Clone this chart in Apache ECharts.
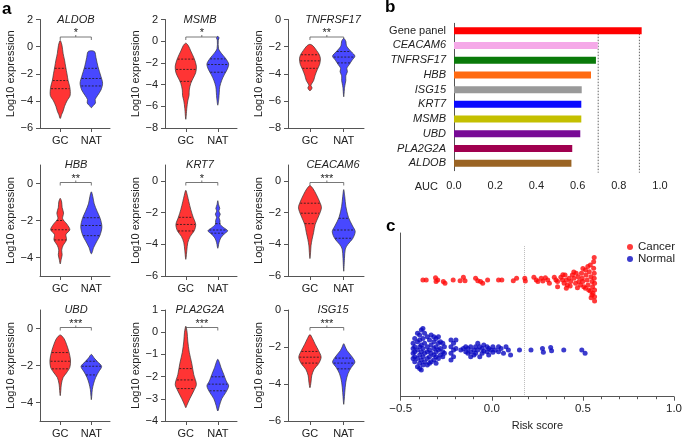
<!DOCTYPE html>
<html><head><meta charset="utf-8">
<script src="https://cdn.jsdelivr.net/npm/echarts@6/dist/echarts.min.js"></script>
<style>html,body{margin:0;padding:0;background:#fff}#main{width:685px;height:440px}</style>
</head><body><div id="main"></div>
<script>
// ---------- DATA ----------
const genes = ['ALDOB','MSMB','TNFRSF17','HBB','KRT7','CEACAM6','UBD','PLA2G2A','ISG15'];
const groups = ['GC','NAT'];
const stars = ['*','*','**','**','*','***','***','***','***'];
const yMin = [-6,-8,-8,-5,-6,-6,-5,-4,-6];
const yMax = [2,2,0,1,1,1,1,1,0];
const yTicks = [[-6,-4,-2,0,2],[-8,-6,-4,-2,0,2],[-8,-6,-4,-2,0],[-4,-2,0],[-6,-4,-2,0],[-6,-4,-2,0],[-4,-2,0],[-4,-3,-2,-1,0,1],[-6,-4,-2,0]];

// violin profiles: [log10 expression, relative density]
const aldobGC = [[0.45,0],[0.1,1.8],[-0.5,3],[-1.0,4.5],[-1.5,5.7],[-2.0,7],[-2.5,8.2],[-3.0,10],[-3.6,10.3],[-4.0,7],[-4.4,4.5],[-4.8,2.8],[-5.0,1.5],[-5.3,0]];
const aldobNAT = [[-0.3,0],[-0.38,3.5],[-0.8,4.8],[-1.5,7],[-2.2,10],[-2.7,11.7],[-3.2,10],[-3.6,6.5],[-3.9,4],[-4.15,4.3],[-4.35,2],[-4.5,0]];
const msmbGC = [[-0.18,0],[-0.4,2.5],[-0.9,5],[-1.6,8.5],[-2.3,10.7],[-2.9,10],[-3.4,7.5],[-3.9,5],[-4.5,3.5],[-5.0,3.3],[-5.5,2],[-6.2,1],[-7.2,0]];
const msmbNAT = [[0.45,0],[0.3,1.3],[0.1,0.5],[-0.7,0.8],[-1.1,3.5],[-1.6,8],[-2.1,11],[-2.6,9.5],[-3.1,6.5],[-3.6,4],[-4.2,2],[-4.7,1.5],[-5.3,1],[-5.9,0]];
const tnfGC = [[-1.83,0],[-1.95,3],[-2.3,6.5],[-2.6,9],[-2.9,10],[-3.3,9.3],[-3.7,7],[-4.1,5],[-4.5,3.5],[-4.85,1],[-5.05,2],[-5.25,0]];
const tnfNAT = [[-1.4,0],[-1.6,2],[-1.9,2.5],[-2.1,4],[-2.4,7.5],[-2.7,10.7],[-3.0,8],[-3.3,5.5],[-3.6,3],[-3.85,3.5],[-4.15,2],[-4.5,2],[-4.7,1.5],[-5.0,0.8],[-5.7,0]];
const hbbGC = [[-0.8,0],[-1.0,1.5],[-1.3,2],[-1.6,3.5],[-1.9,2.5],[-2.2,7],[-2.5,10],[-2.75,6],[-3.05,6.5],[-3.35,3],[-3.6,1.5],[-3.85,2],[-4.1,1],[-4.35,0]];
const hbbNAT = [[-0.45,0],[-0.7,1.5],[-1.1,3],[-1.5,6],[-1.9,9.3],[-2.35,11],[-2.8,9],[-3.1,6],[-3.45,2.5],[-3.8,0]];
const krt7GC = [[-0.6,0],[-0.9,1.5],[-1.3,3],[-1.8,5],[-2.3,7.5],[-2.75,10],[-3.15,8.5],[-3.5,4.5],[-3.9,2],[-4.4,1],[-4.95,0]];
const krt7NAT = [[-1.25,0],[-1.5,0.8],[-1.75,2],[-1.9,1],[-2.1,2.5],[-2.3,1.2],[-2.5,2.2],[-2.75,2.5],[-2.95,6],[-3.15,10],[-3.35,6.5],[-3.6,3],[-3.9,1.2],[-4.25,0]];
const ceaGC = [[-0.3,0],[-0.5,3],[-0.85,6],[-1.35,9.5],[-1.7,11],[-2.2,8.5],[-2.75,5],[-3.25,3.5],[-3.7,2],[-4.1,1],[-4.5,0.6],[-4.9,0]];
const ceaNAT = [[-0.55,0],[-1.0,1],[-1.6,2],[-2.3,4.5],[-2.85,8.5],[-3.2,11],[-3.65,8.5],[-4.0,4],[-4.3,1.5],[-4.9,0.7],[-5.7,0]];
const ubdGC = [[-0.35,0],[-0.55,4],[-0.85,6.5],[-1.25,9],[-1.7,10.7],[-2.1,10],[-2.4,6.5],[-2.65,3],[-3.0,1.2],[-3.35,0.6],[-3.63,0]];
const ubdNAT = [[-1.4,0],[-1.6,3],[-1.8,6.5],[-2.05,10.7],[-2.35,7.5],[-2.65,4.5],[-2.95,2.5],[-3.3,1],[-3.6,0.5],[-3.85,0]];
const plaGC = [[0.27,0],[0.0,1.3],[-0.4,2],[-0.9,3.5],[-1.4,6],[-1.9,8],[-2.35,10.7],[-2.65,8],[-3.0,4],[-3.3,1],[-3.4,0]];
const plaNAT = [[-1.22,0],[-1.35,1.5],[-1.6,3.3],[-1.9,6],[-2.2,8.5],[-2.42,11],[-2.72,8],[-3.0,4],[-3.3,1.7],[-3.55,0]];
const isgGC = [[-1.33,0],[-1.55,2.5],[-1.85,5],[-2.2,8.3],[-2.55,10.7],[-2.9,8.3],[-3.2,4],[-3.55,1.7],[-3.9,1],[-4.2,0]];
const isgNAT = [[-1.82,0],[-2.0,1.5],[-2.2,3.3],[-2.55,8.3],[-2.82,10.7],[-3.1,7.3],[-3.45,4],[-3.9,2],[-4.45,1],[-4.9,0.4],[-5.1,0]];

// quartiles [Q1, median, Q3] for GC and NAT
const aldobQ = [[-3.1,-2.5,-1.6],[-2.9,-2.35,-1.6]];
const msmbQ = [[-3.7,-2.6,-1.65],[-2.86,-2.15,-1.63]];
const tnfQ = [[-3.6,-3.05,-2.6],[-3.2,-2.77,-2.36]];
const hbbQ = [[-3.05,-2.5,-2.0],[-2.82,-2.27,-1.85]];
const krt7Q = [[-3.16,-2.75,-2.3],[-3.3,-3.1,-2.7]];
const ceaQ = [[-2.7,-2.04,-1.41],[-3.62,-3.1,-2.36]];
const ubdQ = [[-2.18,-1.77,-1.3],[-2.51,-2.04,-1.77]];
const plaQ = [[-2.54,-2.15,-1.64],[-2.64,-2.34,-2.01]];
const isgQ = [[-2.87,-2.55,-2.24],[-3.18,-2.87,-2.6]];

// panel b
const aucLabels = ['Gene panel','CEACAM6','TNFRSF17','HBB','ISG15','KRT7','MSMB','UBD','PLA2G2A','ALDOB'];
const aucValues = [0.911,0.698,0.689,0.665,0.620,0.618,0.618,0.613,0.574,0.570];
const aucColors = ['#ff0000','#f5a9e8','#0a7a0a','#ff6a10','#999999','#0a0aff','#c4c000','#780a96','#a0004f','#9a6424'];
const aucRefLines = [0.7, 0.9];

// panel c: [risk score, swarm position]
const cancer = [[-0.378,71.3],[-0.360,71.3],[-0.309,72.7],[-0.306,70.3],[-0.297,71.3],[-0.266,70.3],[-0.257,69.3],[-0.212,71.3],[-0.174,70.9],[-0.156,72.9],[-0.147,70.9],[-0.089,72.3],[-0.077,70.9],[-0.062,70.3],[-0.050,69.3],[-0.023,71.3],[0.037,71.3],[0.055,71.3],[0.118,70.9],[0.136,72.3],[0.181,72.3],[0.184,70.7],[0.231,72.9],[0.244,71.3],[0.253,70.3],[0.271,72.3],[0.280,70.7],[0.294,72.7],[0.307,71.3],[0.316,69.3],[0.343,72.9],[0.352,71.3],[0.361,70.3],[0.379,72.9],[0.388,71.3],[0.397,69.3],[0.402,74.4],[0.409,71.3],[0.415,68.2],[0.424,72.3],[0.433,70.3],[0.442,74.4],[0.451,72.3],[0.460,69.3],[0.463,75.4],[0.474,73.3],[0.478,70.3],[0.487,68.2],[0.492,75.4],[0.496,72.3],[0.499,70.3],[0.505,67.2],[0.514,77.4],[0.517,74.4],[0.523,71.3],[0.528,68.2],[0.532,65.2],[0.535,76.4],[0.541,80.5],[0.544,73.3],[0.550,70.3],[0.553,67.2],[0.555,63.2],[0.559,82.5],[0.559,78.4],[0.562,75.4],[0.562,72.3],[0.564,69.3],[0.564,65.2],[0.564,61.1],[0.564,58.5],[0.550,62.1],[0.541,64.6],[0.514,66.2],[0.409,66.2],[0.361,67.2],[0.562,85.0],[0.545,60.4],[0.47,66.6],[0.43,67.6],[0.45,76.2],[0.50,78.3],[0.527,79.6],[0.39,74.5]];
const normal = [[-0.432,32.6],[-0.432,29.5],[-0.432,26.5],[-0.432,23.4],[-0.423,35.6],[-0.423,30.5],[-0.423,27.5],[-0.423,24.4],[-0.423,21.4],[-0.408,38.7],[-0.408,33.6],[-0.408,28.5],[-0.408,23.4],[-0.408,18.3],[-0.396,37.7],[-0.396,34.6],[-0.396,30.5],[-0.396,25.4],[-0.396,20.4],[-0.396,17.3],[-0.387,40.7],[-0.387,31.6],[-0.387,27.5],[-0.387,22.4],[-0.387,16.3],[-0.378,41.7],[-0.378,35.6],[-0.378,29.5],[-0.378,24.4],[-0.378,19.3],[-0.369,38.7],[-0.369,32.6],[-0.369,26.5],[-0.369,21.4],[-0.354,36.6],[-0.354,30.5],[-0.354,27.5],[-0.354,23.4],[-0.354,19.3],[-0.342,34.6],[-0.342,28.5],[-0.342,24.4],[-0.342,20.4],[-0.333,37.7],[-0.333,31.6],[-0.333,26.5],[-0.333,21.4],[-0.318,36.6],[-0.318,33.6],[-0.318,29.5],[-0.318,25.4],[-0.318,22.4],[-0.306,35.6],[-0.306,30.5],[-0.306,27.5],[-0.306,24.4],[-0.306,20.4],[-0.293,36.6],[-0.293,32.6],[-0.293,28.5],[-0.293,23.4],[-0.282,33.6],[-0.282,29.5],[-0.282,25.4],[-0.269,32.6],[-0.269,27.5],[-0.269,24.4],[-0.260,30.5],[-0.260,26.5],[-0.224,34.6],[-0.224,30.5],[-0.224,26.5],[-0.224,22.4],[-0.210,32.6],[-0.210,28.5],[-0.210,24.4],[-0.197,34.6],[-0.197,29.5],[-0.170,28.5],[-0.156,29.5],[-0.143,30.5],[-0.143,27.5],[-0.131,29.5],[-0.131,26.5],[-0.116,30.5],[-0.116,27.5],[-0.116,24.4],[-0.098,28.5],[-0.098,25.4],[-0.089,30.5],[-0.089,26.5],[-0.077,32.6],[-0.077,28.5],[-0.066,30.5],[-0.066,24.4],[-0.053,29.5],[-0.053,26.5],[-0.044,31.6],[-0.044,27.9],[-0.026,30.5],[-0.026,27.5],[-0.017,29.5],[-0.017,25.4],[-0.005,28.5],[0.006,30.5],[0.006,27.1],[0.019,28.5],[0.037,30.5],[0.037,27.5],[0.051,29.5],[0.064,26.5],[0.078,30.5],[0.091,28.5],[0.103,25.4],[0.152,28.5],[0.215,28.5],[0.278,29.5],[0.283,27.1],[0.323,30.0],[0.328,28.0],[0.395,28.5],[0.494,28.5],[0.512,26.5]];
const riskCutoff = 0.18;

// ---------- CHART ----------
const FONT = '"Liberation Sans", Arial, Helvetica, sans-serif';
const AX = '#555';
const TXT = '#222';
const profiles = [[aldobGC,aldobNAT],[msmbGC,msmbNAT],[tnfGC,tnfNAT],[hbbGC,hbbNAT],[krt7GC,krt7NAT],[ceaGC,ceaNAT],[ubdGC,ubdNAT],[plaGC,plaNAT],[isgGC,isgNAT]];
const quarts = [aldobQ,msmbQ,tnfQ,hbbQ,krt7Q,ceaQ,ubdQ,plaQ,isgQ];
const fills = ['#ff3434','#4848ff'];
const colLeft = [40,165,288], colRight = [110,237,364];
const rowTop = [19.5,165,310], rowBottom = [128,276,421];
const titleX = [76,200,333];
const minus = v => String(v).replace('-', '\u2212');

function widthAt(prof, v) {
  for (let i = 0; i < prof.length - 1; i++) {
    const a = prof[i], b = prof[i+1];
    if (v <= a[0] && v >= b[0]) {
      const t = (a[0] - v) / (a[0] - b[0]);
      return a[1] + t * (b[1] - a[1]);
    }
  }
  return 0;
}

function makeViolin(gi) {
  return function (params, api) {
    const g = api.value(0);
    const prof = profiles[gi][g];
    const cx = api.coord([g, 0])[0];
    const sp = api.coord([1, 0])[0] - api.coord([0, 0])[0];
    const k = sp * 0.34 / 11;
    const right = prof.map(p => [cx + p[1] * k, api.coord([g, p[0]])[1]]);
    const left = prof.filter(p => p[1] > 0).slice().reverse().map(p => [cx - p[1] * k, api.coord([g, p[0]])[1]]);
    const children = [{
      type: 'polygon',
      shape: { points: right.concat(left), smooth: 0.3 },
      style: { fill: fills[g], stroke: '#333', lineWidth: 0.7 }
    }];
    quarts[gi][g].forEach(v => {
      const hw = widthAt(prof, v) * k * 0.95;
      const y = api.coord([g, v])[1];
      children.push({ type: 'line', shape: { x1: cx - hw, y1: y, x2: cx + hw, y2: y },
        style: { stroke: '#1a1a1a', lineWidth: 0.8, lineDash: [2, 1.5] } });
    });
    if (g === 0) {
      const x0 = cx, x1 = api.coord([1, 0])[0];
      const yb = params.coordSys.y + 17.5;
      const xm = (x0 + x1) / 2;
      children.push({ type: 'polyline', shape: { points: [[x0, yb + 3], [x0, yb], [x1, yb], [x1, yb + 3]] },
        style: { stroke: '#555', lineWidth: 0.8, fill: null } });
      children.push({ type: 'line', shape: { x1: xm, y1: yb, x2: xm, y2: yb - 2 },
        style: { stroke: '#555', lineWidth: 0.8 } });
      children.push({ type: 'text', style: { text: stars[gi], x: xm, y: yb - 4, align: 'center', verticalAlign: 'middle',
        fontSize: 11, fontFamily: FONT, fill: TXT } });
    }
    return { type: 'group', children };
  };
}

const grid = [], xAxis = [], yAxis = [], series = [], graphic = [];
genes.forEach((g, i) => {
  const r = Math.floor(i / 3), c = i % 3;
  grid.push({ left: colLeft[c], width: colRight[c] - colLeft[c], top: rowTop[r], height: rowBottom[r] - rowTop[r] });
  xAxis.push({ gridIndex: i, type: 'value', min: -0.65, max: 1.6,
    splitLine: { show: false },
    axisLine: { onZero: false, lineStyle: { color: AX, width: 1 } },
    axisTick: { show: true, customValues: [0, 1], length: 4, lineStyle: { color: AX } },
    axisLabel: { customValues: [0, 1], formatter: v => groups[Math.round(v)], color: TXT, fontSize: 11, fontFamily: FONT, margin: 7 } });
  yAxis.push({ gridIndex: i, type: 'value', min: yMin[i], max: yMax[i],
    name: 'Log10 expression', nameLocation: 'middle', nameGap: 24,
    nameTextStyle: { color: TXT, fontSize: 11, fontFamily: FONT },
    splitLine: { show: false },
    axisLine: { show: true, onZero: false, lineStyle: { color: AX, width: 1 } },
    axisTick: { show: true, customValues: yTicks[i], length: 4, lineStyle: { color: AX } },
    axisLabel: { customValues: yTicks[i], formatter: minus, color: TXT, fontSize: 11, fontFamily: FONT, margin: 7 } });
  series.push({ type: 'custom', xAxisIndex: i, yAxisIndex: i, data: [[0, 0], [1, 0]],
    renderItem: makeViolin(i), silent: true, clip: false });
  graphic.push({ type: 'text', x: titleX[c], y: rowTop[r], style: { text: g, align: 'center', verticalAlign: 'middle',
    fontStyle: 'italic', fontSize: 11, fontFamily: FONT, fill: TXT } });
});

// panel b
grid.push({ left: 454, right: 25, top: 23.3, bottom: 440 - 170.7 });
xAxis.push({ gridIndex: 9, type: 'value', min: 0, max: 1, interval: 0.2, offset: 2,
  name: 'AUC', nameLocation: 'start', nameGap: 16,
  nameTextStyle: { color: TXT, fontSize: 11, fontFamily: FONT, align: 'right', verticalAlign: 'top', padding: [9, 0, 0, 0] },
  splitLine: { show: false },
  axisLine: { onZero: false, lineStyle: { color: AX } },
  axisTick: { length: 4, lineStyle: { color: AX } },
  axisLabel: { formatter: v => v.toFixed(1), color: TXT, fontSize: 11, fontFamily: FONT, margin: 8 } });
yAxis.push({ gridIndex: 9, type: 'category', data: aucLabels, inverse: true,
  axisLine: { onZero: false, lineStyle: { color: AX } },
  axisTick: { alignWithLabel: true, length: 4, lineStyle: { color: AX } },
  axisLabel: { color: TXT, fontSize: 11, fontFamily: FONT, margin: 8,
    formatter: v => v === 'Gene panel' ? v : '{i|' + v + '}',
    rich: { i: { fontStyle: 'italic', fontSize: 11, fontFamily: FONT, color: TXT } } } });
series.push({ type: 'custom', xAxisIndex: 9, yAxisIndex: 9, z: 1, silent: true,
  data: aucRefLines.map(v => [v, 0]),
  renderItem: (params, api) => {
    const p = api.coord([api.value(0), 0]);
    return { type: 'line', shape: { x1: p[0], y1: p[1], x2: p[0], y2: params.coordSys.y + params.coordSys.height + 2 },
      style: { stroke: '#555', lineWidth: 0.9, lineDash: [1.5, 1.5] } };
  } });
series.push({ type: 'bar', xAxisIndex: 9, yAxisIndex: 9, z: 3, barWidth: 7, silent: true,
  data: aucValues.map((v, i) => ({ value: v, itemStyle: { color: aucColors[i] } })) });

// panel c
grid.push({ left: 400.7, right: 7, top: 233, bottom: 440 - 396.7 });
xAxis.push({ gridIndex: 10, type: 'value', min: -0.5, max: 1, interval: 0.5,
  name: 'Risk score', nameLocation: 'middle', nameGap: 24,
  nameTextStyle: { color: TXT, fontSize: 11, fontFamily: FONT },
  splitLine: { show: false },
  axisLine: { onZero: false, lineStyle: { color: AX } },
  axisTick: { length: 4, lineStyle: { color: AX } },
  minorTick: { show: true, splitNumber: 5, length: 2.5, lineStyle: { color: AX } },
  axisLabel: { formatter: v => minus(v.toFixed(1)), color: TXT, fontSize: 11.5, fontFamily: FONT, margin: 6 } });
yAxis.push({ gridIndex: 10, type: 'value', min: 0, max: 100,
  splitLine: { show: false }, axisTick: { show: false }, axisLabel: { show: false },
  axisLine: { show: true, onZero: false, lineStyle: { color: AX } } });
series.push({ type: 'scatter', name: 'Cancer', xAxisIndex: 10, yAxisIndex: 10, symbolSize: 5, z: 3,
  itemStyle: { color: '#ff0a0a' }, data: cancer,
  markLine: { silent: true, symbol: 'none', label: { show: false }, z: 1,
    lineStyle: { type: 'dotted', color: '#bbbbbb', width: 1 },
    data: [[{ coord: [riskCutoff, 1] }, { coord: [riskCutoff, 92.7] }]] } });
series.push({ type: 'scatter', name: 'Normal', xAxisIndex: 10, yAxisIndex: 10, symbolSize: 5, z: 3,
  itemStyle: { color: '#0a0ac0' }, data: normal });

graphic.push({ type: 'text', x: 2, y: 1, style: { text: 'a', fontWeight: 'bold', fontSize: 17, fontFamily: FONT, fill: '#000' } });
graphic.push({ type: 'text', x: 385, y: -1, style: { text: 'b', fontWeight: 'bold', fontSize: 17, fontFamily: FONT, fill: '#000' } });
graphic.push({ type: 'text', x: 386, y: 218, style: { text: 'c', fontWeight: 'bold', fontSize: 17, fontFamily: FONT, fill: '#000' } });

const chart = echarts.init(document.getElementById('main'), null, { renderer: 'canvas' });
chart.setOption({
  animation: false,
  backgroundColor: '#fff',
  textStyle: { fontFamily: FONT },
  grid, xAxis, yAxis, series, graphic,
  legend: { data: ['Cancer', 'Normal'], left: 627, top: 241, orient: 'vertical', icon: 'circle',
    itemWidth: 6, itemHeight: 6, itemGap: 0, padding: 0, selectedMode: false,
    textStyle: { color: TXT, fontSize: 11.5, fontFamily: FONT } }
});
</script></body></html>
